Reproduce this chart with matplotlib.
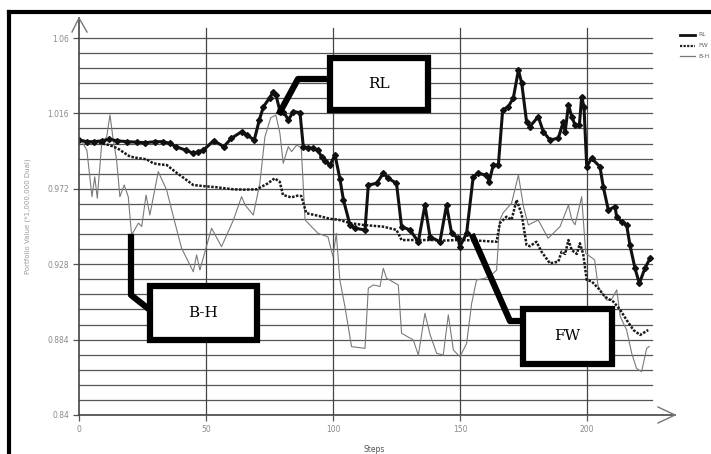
import matplotlib.pyplot as plt
from matplotlib.patches import Rectangle
from matplotlib.lines import Line2D

# values (steps, portfolio value)
rl_steps = [0, 3, 6, 9, 12, 15, 19, 23, 26, 30, 33, 36, 38, 42, 45, 47, 49, 53, 57, 60,
            64, 66, 69, 71, 72.6, 75, 76.5, 77.5, 79, 80.5, 82.4, 84.4, 87, 88.3, 90, 92.2,
            94, 95.5, 97, 98.8, 100.8, 102.7, 104.1, 106.7, 108.6, 112.6, 113.9, 117.2,
            119.8, 121.8, 125, 127, 130.3, 133.6, 136.2, 138.2, 142.1, 144.7, 146.7, 149.3,
            149.9, 152.6, 155.2, 157, 160.4, 161.5, 163.1, 165.1, 166.8, 169, 171, 173,
            174.3, 176.2, 177.5, 180.8, 182.8, 185.4, 188.7, 190.7, 191.4, 192.7, 194,
            195.3, 197, 197.9, 198.8, 199.9, 201.8, 205.1, 206.4, 208.4, 211, 211.7,
            213.6, 215.6, 216.9, 218.9, 220.6, 222.8, 224.8]
rl_values = [1.0005, 0.9995, 0.9995, 1.0000, 1.0009, 1.0000, 0.9995, 0.9992, 0.9989, 0.9995,
             0.9995, 0.9985, 0.9966, 0.9946, 0.9927, 0.9937, 0.9946, 1.0001, 0.9966, 1.0015,
             1.0053, 1.0035, 1.0005, 1.0122, 1.0199, 1.0250, 1.0287, 1.0270, 1.0180, 1.0170,
             1.0122, 1.0170, 1.0165, 0.9966, 0.9960, 0.9956, 0.9946, 0.9907, 0.9880, 0.9859,
             0.9917, 0.9780, 0.9655, 0.9509, 0.9490, 0.9480, 0.9742, 0.9752, 0.9810, 0.9781,
             0.9752, 0.9499, 0.9480, 0.9411, 0.9625, 0.9440, 0.9411, 0.9625, 0.9460, 0.9431,
             0.9382, 0.9460, 0.9791, 0.9810, 0.9800, 0.9762, 0.9859, 0.9859, 1.0180, 1.0199,
             1.0250, 1.0413, 1.0336, 1.0112, 1.0083, 1.0141, 1.0053, 1.0005, 1.0015, 1.0112,
             1.0053, 1.0209, 1.0141, 1.0092, 1.0092, 1.0257, 1.0200, 0.9849, 0.9898, 0.9849,
             0.9732, 0.9596, 0.9616, 0.9557, 0.9528, 0.9509, 0.9392, 0.9256, 0.9168, 0.9256,
             0.9314]

fw_steps = [0, 3, 6, 9, 12, 15.2, 17.1, 20.1, 23, 26.6, 29.2, 32, 34.5, 38.4, 42, 45, 48.9,
            54.2, 60.8, 65, 70, 74.4, 77, 79, 80.3, 83.6, 86, 87.5, 89.5, 94, 98.8, 102,
            106.7, 111.9, 119.8, 125, 127, 132.9, 139.5, 144, 148.7, 151.3, 156.5, 160,
            164.4, 165.7, 168.3, 170.3, 172.3, 174.3, 176.2, 177.5, 180.1, 182.1, 185.4,
            188.7, 190, 191.4, 192.7, 194, 196, 197.2, 198.5, 199.9, 201.8, 204.4, 207.1,
            210.4, 213.1, 215.6, 218.3, 220.9, 224.1]
fw_values = [1.0005, 0.9995, 0.9990, 0.9985, 0.9975, 0.9956, 0.9937, 0.9908, 0.9900, 0.9892,
             0.9869, 0.9862, 0.9859, 0.9814, 0.9775, 0.9742, 0.9736, 0.9729, 0.9717, 0.9715,
             0.9717, 0.9752, 0.9781, 0.9762, 0.9684, 0.9670, 0.9680, 0.9678, 0.9578, 0.9563,
             0.9545, 0.9540, 0.9520, 0.9509, 0.9499, 0.9480, 0.9421, 0.9421, 0.9421, 0.9418,
             0.9421, 0.9421, 0.9418, 0.9415, 0.9411, 0.9520, 0.9557, 0.9540, 0.9655, 0.9570,
             0.9392, 0.9385, 0.9411, 0.9353, 0.9285, 0.9295, 0.9353, 0.9340, 0.9421, 0.9362,
             0.9340, 0.9402, 0.9340, 0.9188, 0.9180, 0.9140, 0.9090, 0.9061, 0.9013, 0.8954,
             0.8896, 0.8867, 0.8896]

bh_steps = [0.7, 3.1, 5.1, 6.2, 7.2, 8.9, 10.9, 12.2, 13.3, 14.8, 16.1, 17.8, 19.4, 20.7,
            23.4, 24.7, 26.4, 27.9, 31.2, 34.5, 37.8, 40.4, 45, 46.3, 47.6, 49.6, 52.2,
            56.1, 60.8, 64, 65.4, 68.6, 71.2, 73.2, 75.5, 77.5, 79.1, 80.4, 82.4, 83.7,
            85.7, 87.5, 89, 94.1, 98, 100, 101.3, 102.7, 104.7, 107.3, 112.6, 113.9, 115.9,
            118.5, 119.8, 121.1, 125.7, 127, 131.6, 133.6, 136.2, 138.2, 140.8, 143.4,
            145.4, 147.4, 150, 152.6, 154.6, 156.5, 159.9, 163.1, 164.4, 165.7, 167, 170.3,
            173, 175, 176.9, 180.8, 184.7, 189.4, 192.7, 194, 195.3, 197.9, 199.5, 203,
            204.4, 207.7, 209.5, 211.7, 213.1, 215.6, 217.6, 219.5, 221.5, 223.5, 224.5]
bh_values = [1.0005, 0.9946, 0.9674, 0.9790, 0.9665, 0.9976, 1.0024, 1.0151, 1.0024, 0.9888,
             0.9674, 0.9742, 0.9674, 0.9450, 0.9520, 0.9500, 0.9684, 0.9567, 0.9820, 0.9713,
             0.9520, 0.9373, 0.9236, 0.9334, 0.9246, 0.9353, 0.9490, 0.9382, 0.9538, 0.9674,
             0.9625, 0.9567, 0.9752, 1.0024, 1.0135, 1.0150, 1.0044, 0.9869, 0.9966, 0.9937,
             0.9975, 0.9960, 0.9538, 0.9460, 0.9440, 0.9324, 0.9460, 0.9188, 0.9032, 0.8799,
             0.8789, 0.9140, 0.9159, 0.9150, 0.9256, 0.9198, 0.9159, 0.8877, 0.8838, 0.8750,
             0.8993, 0.8870, 0.8760, 0.8750, 0.8984, 0.8779, 0.8740, 0.8818, 0.9052, 0.9188,
             0.9198, 0.9227, 0.9246, 0.9538, 0.9580, 0.9636, 0.9800, 0.9616, 0.9509, 0.9538,
             0.9431, 0.9500, 0.9625, 0.9540, 0.9510, 0.9674, 0.9344, 0.9305, 0.9149, 0.9071,
             0.9070, 0.9130, 0.8974, 0.8896, 0.8760, 0.8672, 0.8653, 0.8789, 0.8800]

y_ticks = [0.84, 0.884, 0.928, 0.972, 1.016, 1.06]
y_tick_labels = ['0.84', '0.884', '0.928', '0.972', '1.016', '1.06']
x_ticks = [0, 50, 100, 150, 200]

fig = plt.figure(figsize=(7.11, 4.54), dpi=100)
W, H = 711, 454

def fx(px):
    return px / W

def fy(py):
    return 1 - py / H

# plot area: step 0 at px 79, 0.84 at py 415
ax = fig.add_axes([fx(79), fy(415), (670 - 79) / W, (415 - 18) / H])
ax.set_xlim(0, (670 - 79) / 2.54)
ax.set_ylim(0.84, 0.84 + (415 - 18) / 1713.6)

# grid: minor horizontal every 0.0088, vertical at x ticks
n_h = 26
for i in range(n_h):
    yv = 0.84 + i * 0.0088
    ax.plot([0, 225.7], [yv, yv], color='#555555', lw=0.9, zorder=1)
for xv in x_ticks[1:]:
    ax.plot([xv, xv], [0.84, 1.066], color='#444444', lw=0.9, zorder=1)

ax.plot(bh_steps, bh_values, color='#7a7a7a', lw=0.8, zorder=2, label='B-H')
ax.plot(fw_steps, fw_values, color='#1a1a1a', lw=1.8, ls=(0, (1, 0.6)), zorder=3, label='FW')
ax.plot(rl_steps, rl_values, color='#111111', lw=2.2, marker='D', ms=3, zorder=4, label='RL')

for s in ax.spines.values():
    s.set_visible(False)
ax.set_xticks(x_ticks)
ax.set_xticklabels([str(v) for v in x_ticks])
ax.set_yticks(y_ticks)
ax.set_yticklabels(y_tick_labels)
ax.tick_params(axis='both', colors='#555555', labelcolor='#8a8a8a', labelsize=5.5,
               length=4, width=0.9, direction='out', pad=3)
ax.set_xlabel('Steps', fontsize=5.5, color='#555555', labelpad=8)
ax.set_ylabel('Portfolio Value (*1,000,000 Dual)', fontsize=5, color='#9a9a9a', labelpad=12)

# axis lines with open arrow heads (drawn in figure pixels)
def fline(xs, ys, **kw):
    fig.add_artist(Line2D([fx(v) for v in xs], [fy(v) for v in ys], **kw))

fline([79, 79], [415, 18], color='#444444', lw=1.2)
fline([72, 79, 87], [32, 18, 32], color='#777777', lw=1.0)
fline([79, 675], [415, 415], color='#444444', lw=1.2)
fline([658, 675, 658], [407, 415, 423], color='#777777', lw=1.0)

# outer frame of the scanned figure
fline([9, 9], [454, 12], color='black', lw=3)
fline([9, 711], [12, 12], color='black', lw=3)

# legend at the top right
for i, (ls, lw, c, name) in enumerate([('-', 2.0, '#111111', 'RL'),
                                        ((0, (1, 0.6)), 1.6, '#222222', 'FW'),
                                        ('-', 0.9, '#777777', 'B-H')]):
    y0 = 35 + i * 10.5
    fline([680, 695], [y0, y0], color=c, lw=lw, ls=ls)
    fig.text(fx(698), fy(y0), name, fontsize=4.5, color='#666666', va='center', ha='left')

# annotation boxes with pointers
def box(x0, y0, x1, y1, text):
    fig.add_artist(Rectangle((fx(x0), fy(y1)), (x1 - x0) / W, (y1 - y0) / H,
                             facecolor='white', edgecolor='black', lw=4.5, zorder=10))
    fig.text(fx((x0 + x1) / 2), fy((y0 + y1) / 2), text, fontsize=11, family='DejaVu Serif',
             ha='center', va='center', zorder=11)

fline([280, 298, 330], [112, 79, 79], color='black', lw=4.5, zorder=9)
box(330, 58, 428, 110, 'RL')

fline([131, 131, 150], [237, 295, 310], color='black', lw=4.5, zorder=9)
box(150, 286, 257, 340, 'B-H')

fline([473, 510, 523], [237, 321, 321], color='black', lw=4.5, zorder=9)
box(523, 309, 612, 364, 'FW')

fig.savefig('out.png', dpi=100, facecolor='white')
